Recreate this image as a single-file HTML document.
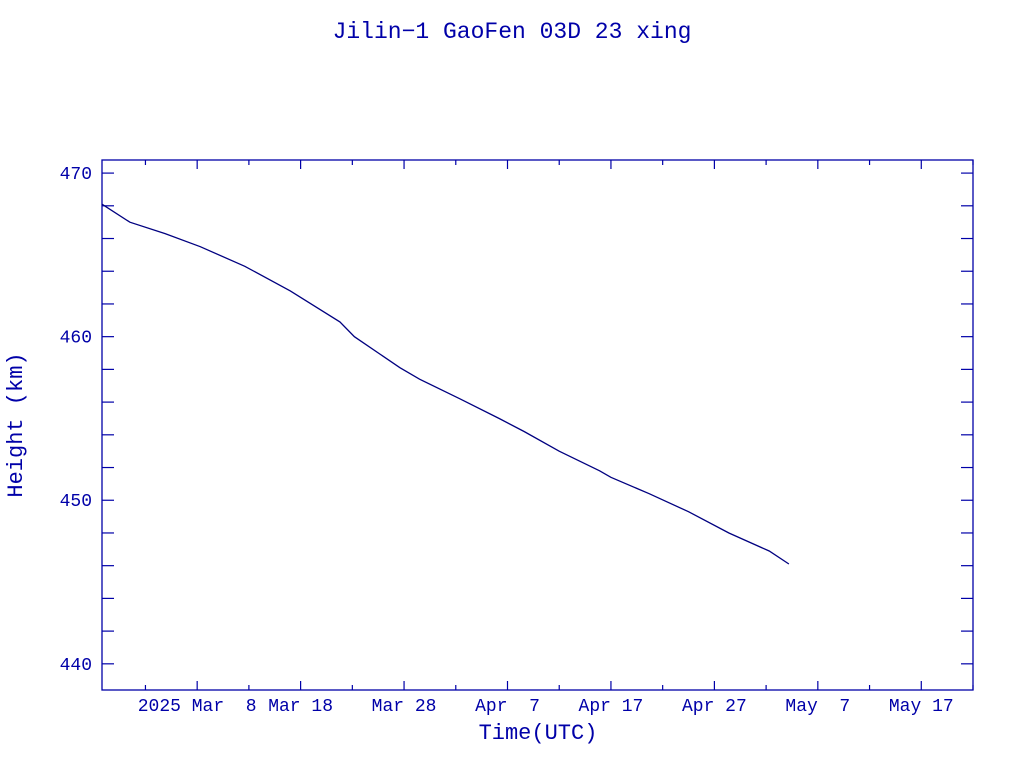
<!DOCTYPE html>
<html><head><meta charset="utf-8"><style>body{margin:0;background:#fff}svg{display:block}text{font-family:"Liberation Mono",monospace;fill:#0000a8;white-space:pre}</style></head>
<body>
<svg id="chart" width="1024" height="768">
<text x="512" y="38" font-size="23" text-anchor="middle">Jilin−1 GaoFen 03D 23 xing</text>
<text x="538" y="739" font-size="22" text-anchor="middle">Time(UTC)</text>
<text transform="translate(22,425) rotate(-90)" font-size="22" text-anchor="middle">Height (km)</text>
<rect x="102" y="160" width="871" height="530" fill="none" stroke="#0000a8" stroke-width="1.3"/>
<g id="axes"></g>
<path id="line" fill="none" stroke="#000080" stroke-width="1.3"/>
</svg>
<script>
const days=[-9.2,-6.5,-3.1,0.3,4.6,9.0,13.8,15.2,19.6,21.5,25.4,29.2,31.6,35.0,38.9,40.0,43.7,47.5,51.4,55.3,57.2];
const heights=[468.1,467.0,466.3,465.5,464.3,462.8,460.9,460.0,458.1,457.4,456.2,455.0,454.2,453.0,451.8,451.4,450.4,449.3,448.0,446.9,446.1];
const xTickDays=[0,10,20,30,40,50,60,70];
const xTickLabels=["2025 Mar  8","Mar 18","Mar 28","Apr  7","Apr 17","Apr 27","May  7","May 17"];
const yTicks=[440,450,460,470];
const X0=102,X1=973,Y0=160,Y1=690;
const dMin=-9.2,dMax=75.0,hMin=438.4,hMax=470.8;
const xs=d=>X0+(d-dMin)/(dMax-dMin)*(X1-X0);
const ys=h=>Y1-(h-hMin)/(hMax-hMin)*(Y1-Y0);
const NS="http://www.w3.org/2000/svg";
const g=document.getElementById('axes');
function ln(x1,y1,x2,y2,name){const l=document.createElementNS(NS,'line');l.setAttribute('x1',x1);l.setAttribute('y1',y1);l.setAttribute('x2',x2);l.setAttribute('y2',y2);l.setAttribute('stroke','#0000a8');l.setAttribute('stroke-width','1.2');


g.appendChild(l);}
for(let d=-5;d<=dMax;d+=5){const x=xs(d);const major=d%10===0;const L=major?9:5;ln(x,Y1,x,Y1-L,major?'x-major-tick':'x-minor-tick');ln(x,Y0,x,Y0+L,major?'x-major-tick':'x-minor-tick');}
xTickDays.forEach((d,i)=>{const t=document.createElementNS(NS,'text');t.setAttribute('x',xs(d));t.setAttribute('y',711);t.setAttribute('font-size','18');t.setAttribute('text-anchor','middle');t.textContent=xTickLabels[i];


g.appendChild(t);});
for(let h=440;h<=470;h+=2){const y=ys(h);ln(X0,y,X0+12,y,'y-tick');ln(X1,y,X1-12,y,'y-tick');}
yTicks.forEach(h=>{const t=document.createElementNS(NS,'text');t.setAttribute('x',92);t.setAttribute('y',ys(h)+6);t.setAttribute('font-size','18');t.setAttribute('text-anchor','end');t.textContent=h;


g.appendChild(t);});
document.getElementById('line').setAttribute('d',days.map((d,i)=>(i?'L':'M')+xs(d).toFixed(1)+' '+ys(heights[i]).toFixed(1)).join(' '));
</script>
</body></html>
